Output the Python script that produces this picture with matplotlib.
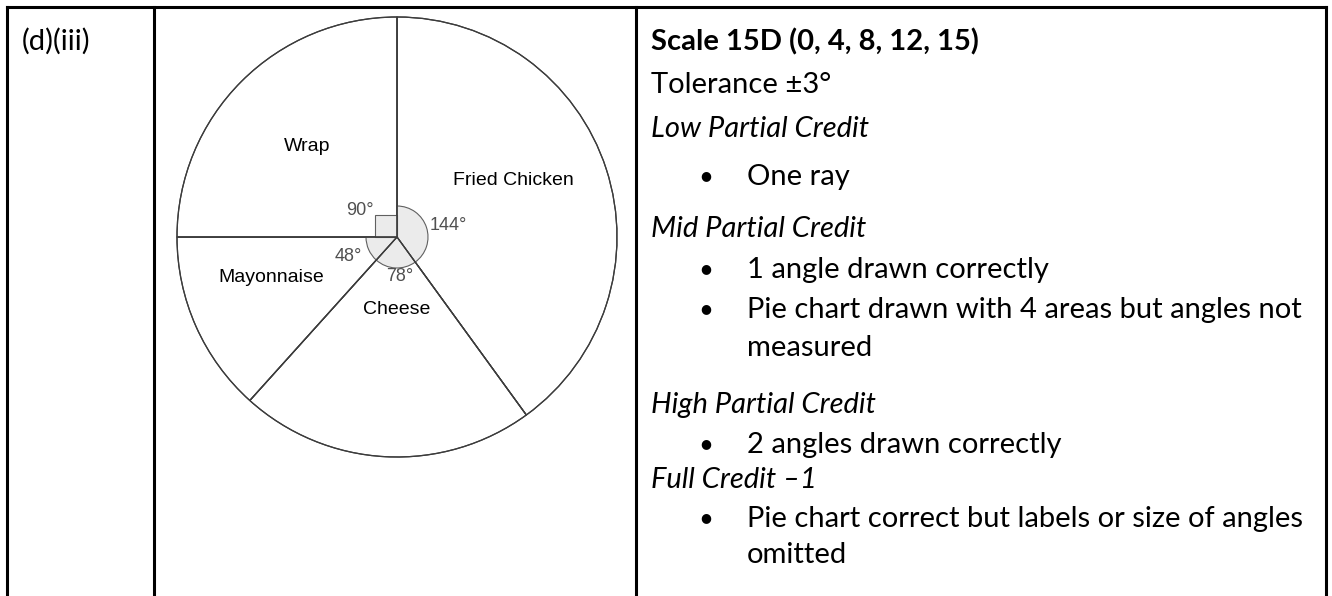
import matplotlib
matplotlib.use("Agg")
import matplotlib.pyplot as plt
from matplotlib.patches import Wedge, Rectangle
import numpy as np

# pie data
items = ["Fried Chicken", "Cheese", "Mayonnaise", "Wrap"]
angles = [144, 78, 48, 90]
angle_text = ["144°", "78°", "48°", "90°"]

# text in the right hand column: (kind, text)
marking = [
    ("bold", "Scale 15D (0, 4, 8, 12, 15)"),
    ("plain", "Tolerance ±3°"),
    ("italic", "Low Partial Credit"),
    ("bullet", "One ray"),
    ("italic", "Mid Partial Credit"),
    ("bullet", "1 angle drawn correctly"),
    ("bullet", "Pie chart drawn with 4 areas but angles not"),
    ("cont", "measured"),
    ("italic", "High Partial Credit"),
    ("bullet", "2 angles drawn correctly"),
    ("italic", "Full Credit \u20131"),
    ("bullet", "Pie chart correct but labels or size of angles"),
    ("cont", "omitted"),
]
baselines = [50, 93, 137, 185, 237, 278, 318, 356, 413, 453, 488, 527, 563]

W, H = 1332, 596
fig = plt.figure(figsize=(W / 100, H / 100), dpi=100)
fig.patch.set_facecolor("white")

# overlay in pixel units for the table
bg = fig.add_axes([0, 0, 1, 1])
bg.set_xlim(0, W)
bg.set_ylim(H, 0)
bg.axis("off")

lw = 2.2
bg.plot([7, 1326], [7, 7], color="black", lw=lw, solid_capstyle="projecting")
for x in [7, 154, 636, 1326]:
    bg.plot([x, x], [7, H + 5], color="black", lw=lw, solid_capstyle="projecting")

body = "Lato"
fs = 21
bg.text(22, 50, "(d)(iii)", fontsize=fs, family=body, va="baseline", ha="left")

for (kind, txt), yb in zip(marking, baselines):
    if kind == "bold":
        bg.text(651, yb, txt, fontsize=fs, family=body, weight="bold", va="baseline")
    elif kind == "plain":
        bg.text(651, yb, txt, fontsize=fs, family=body, va="baseline")
    elif kind == "italic":
        bg.text(651, yb, txt, fontsize=fs, family=body, style="italic", va="baseline")
    elif kind == "bullet":
        bg.text(706, yb - 9, "\u25CF", fontsize=9, family="DejaVu Sans", ha="center", va="center")
        bg.text(747, yb, txt, fontsize=fs, family=body, va="baseline")
    else:
        bg.text(747, yb, txt, fontsize=fs, family=body, va="baseline")

# pie chart
R = 220
cx, cy = 397, 237
half = 1.1 * R
ax = fig.add_axes([(cx - half) / W, (H - cy - half) / H, 2 * half / W, 2 * half / H])
edge = "#3c3c3c"
ax.pie(angles, startangle=90, counterclock=False, colors=["white"] * len(angles),
       wedgeprops=dict(edgecolor=edge, linewidth=0.9))

# angle markers
r_arc = 31 / R
sq = 22 / R
ends = 90 - np.cumsum(angles)
starts = np.concatenate([[90], ends[:-1]])
for a, t1, t2 in zip(angles, ends, starts):
    if a == 90:
        # right angle square
        ax.add_patch(Rectangle((0, 0), -sq, sq, facecolor="#ebebeb", edgecolor="#606060", lw=0.8, zorder=3))
    else:
        ax.add_patch(Wedge((0, 0), r_arc, t1, t2, facecolor="#ebebeb", edgecolor="#606060", lw=0.8, zorder=3))

# redraw the slice edges on top
ax.pie(angles, startangle=90, counterclock=False,
       wedgeprops=dict(fill=False, edgecolor=edge, linewidth=0.9, zorder=4))

label_pos = [(0.53, 0.255), (0.0, -0.33), (-0.57, -0.185), (-0.41, 0.41)]
for name, (x, y) in zip(items, label_pos):
    ax.text(x, y, name, fontsize=14, family="Liberation Sans", ha="center", va="center", color="black")

angle_pos = [(0.232, 0.05), (0.014, -0.18), (-0.223, -0.09), (-0.168, 0.12)]
for txt, (x, y) in zip(angle_text, angle_pos):
    ax.text(x, y, txt, fontsize=13, family="Liberation Sans", ha="center", va="center", color="#505050", zorder=5)

ax.set_xlim(-1.1, 1.1)
ax.set_ylim(-1.1, 1.1)
ax.set_aspect("equal")
ax.axis("off")

fig.savefig("out.png", dpi=100, facecolor="white")
